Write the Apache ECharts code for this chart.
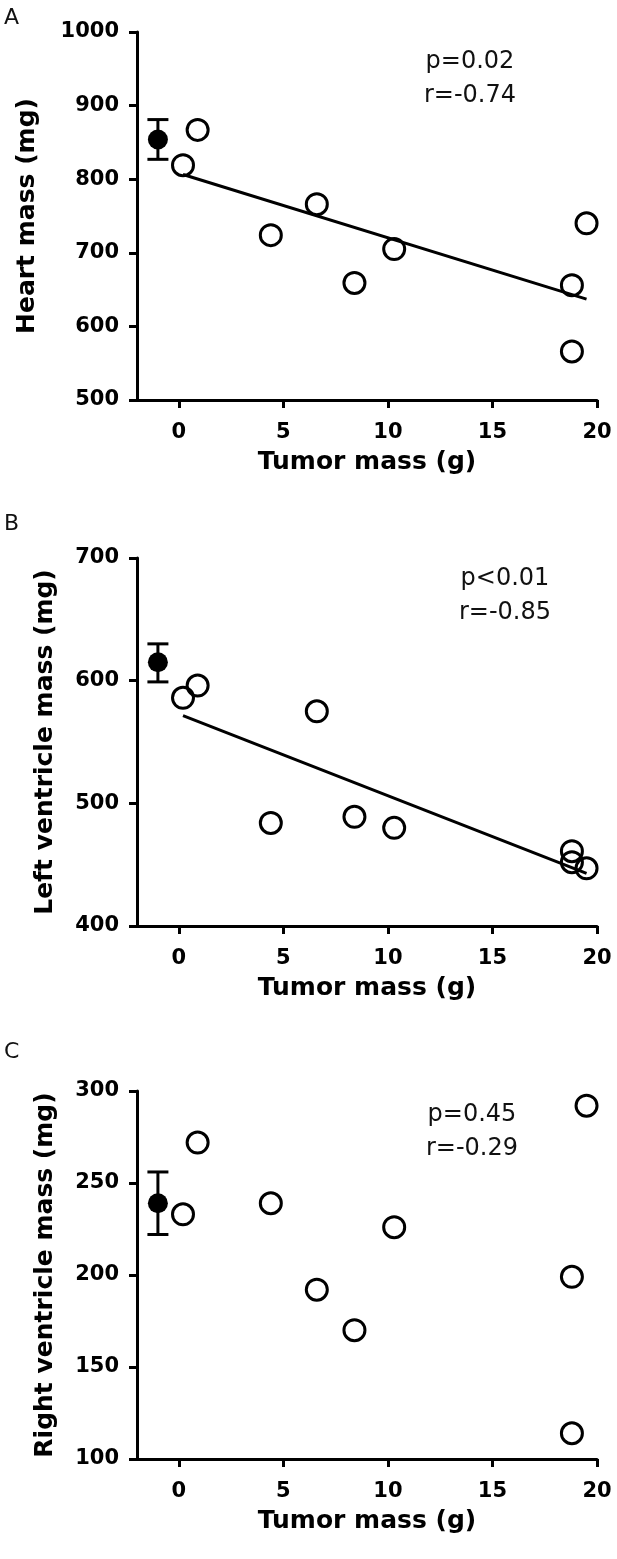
<!DOCTYPE html>
<html>
<head>
<meta charset="utf-8">
<script src="https://cdn.jsdelivr.net/npm/echarts@6/dist/echarts.min.js"></script>
<style>
  html, body { margin: 0; padding: 0; background: #fff; }
  #chart { width: 617px; height: 1559px; }
</style>
</head>
<body>
<div id="chart"></div>
<script>
// ---- Data ----
const tumorMass = [0.2, 0.9, 4.4, 6.6, 8.4, 10.3, 18.8, 18.8, 19.5];
const heartMass = [819, 867, 724, 766, 659, 705, 656, 566, 740];
const lvMass    = [586, 596, 484, 575, 489, 480, 461, 452, 447];
const rvMass    = [233, 272, 239, 192, 170, 226, 199, 114, 292];

// control group (mean, SEM bounds) plotted at x = -1
const controlX = -1;
const heartCtrl = [854, 827, 881];
const lvCtrl    = [615, 599, 630];
const rvCtrl    = [239, 222, 256];

const xTicks = [0, 5, 10, 15, 20];
const statsA = ['p=0.02', 'r=-0.74'];
const statsB = ['p<0.01', 'r=-0.85'];
const statsC = ['p=0.45', 'r=-0.29'];

const yNames = ['Heart mass (mg)', 'Left ventricle mass (mg)', 'Right ventricle mass (mg)'];
const xName = 'Tumor mass (g)';

// ---- helpers ----
function fitLine(xs, ys) {
  const n = xs.length;
  const mx = xs.reduce((a, b) => a + b, 0) / n;
  const my = ys.reduce((a, b) => a + b, 0) / n;
  let sxy = 0, sxx = 0;
  for (let i = 0; i < n; i++) { sxy += (xs[i] - mx) * (ys[i] - my); sxx += (xs[i] - mx) ** 2; }
  const b = sxy / sxx, a = my - b * mx;
  const x0 = Math.min(...xs), x1 = Math.max(...xs);
  return [[x0, a + b * x0], [x1, a + b * x1]];
}

const FONT = 'DejaVu Sans';
const grids = [
  { left: 137, right: 20, top: 32, height: 368 },
  { left: 137, right: 20, top: 558, height: 368 },
  { left: 137, right: 20, top: 1091, height: 368 }
];
const yRanges = [[500, 1000, 100], [400, 700, 100], [100, 300, 50]];
const yNameGaps = [97, 79, 79];

const axisLine = { show: true, onZero: false, lineStyle: { color: '#000', width: 3 } };
const axisTick = { show: true, length: 8, lineStyle: { color: '#000', width: 3 } };
const tickLabel = { color: '#000', fontFamily: FONT, fontWeight: 'bold', fontSize: 21,
  formatter: function (v) { return String(v); } };

const xAxes = grids.map((g, i) => ({
  type: 'value', gridIndex: i, min: -2, max: 20,
  axisLine: axisLine,
  axisTick: Object.assign({}, axisTick, { customValues: xTicks }),
  axisLabel: Object.assign({}, tickLabel, { customValues: xTicks, margin: 22 }),
  splitLine: { show: false },
  name: xName, nameLocation: 'middle', nameGap: 50,
  nameTextStyle: { color: '#000', fontFamily: FONT, fontWeight: 'bold', fontSize: 25 }
}));

const yAxes = grids.map((g, i) => ({
  type: 'value', gridIndex: i, min: yRanges[i][0], max: yRanges[i][1], interval: yRanges[i][2],
  axisLine: axisLine, axisTick: axisTick,
  axisLabel: Object.assign({}, tickLabel, { margin: 18 }),
  splitLine: { show: false },
  name: yNames[i], nameLocation: 'middle', nameGap: yNameGaps[i],
  nameTextStyle: { color: '#000', fontFamily: FONT, fontWeight: 'bold', fontSize: 25 }
}));

const panelValues = [heartMass, lvMass, rvMass];
const ctrlValues = [heartCtrl, lvCtrl, rvCtrl];
const showFit = [true, true, false];

const series = [];
panelValues.forEach((vals, i) => {
  if (showFit[i]) {
    series.push({
      type: 'line', xAxisIndex: i, yAxisIndex: i, data: fitLine(tumorMass, vals),
      showSymbol: false, symbol: 'none', lineStyle: { color: '#000', width: 3 }, z: 2, silent: true
    });
  }
  series.push({
    type: 'scatter', xAxisIndex: i, yAxisIndex: i,
    data: tumorMass.map((x, k) => [x, vals[k]]),
    symbol: 'circle', symbolSize: 21,
    itemStyle: { color: 'rgba(0,0,0,0)', borderColor: '#000', borderWidth: 3, opacity: 1 },
    z: 3, silent: true
  });
  const c = ctrlValues[i];
  series.push({
    type: 'custom', xAxisIndex: i, yAxisIndex: i,
    data: [[controlX, c[0], c[1], c[2]]],
    renderItem: function (params, api) {
      const x = api.value(0);
      const lo = api.coord([x, api.value(2)]);
      const hi = api.coord([x, api.value(3)]);
      const hw = 10.5;
      const st = { stroke: '#000', lineWidth: 3 };
      return {
        type: 'group', children: [
          { type: 'line', shape: { x1: lo[0], y1: lo[1], x2: hi[0], y2: hi[1] }, style: st },
          { type: 'line', shape: { x1: lo[0] - hw, y1: lo[1], x2: lo[0] + hw, y2: lo[1] }, style: st },
          { type: 'line', shape: { x1: hi[0] - hw, y1: hi[1], x2: hi[0] + hw, y2: hi[1] }, style: st }
        ]
      };
    },
    z: 3, silent: true
  });
  series.push({
    type: 'scatter', xAxisIndex: i, yAxisIndex: i,
    data: [[controlX, c[0]]], symbol: 'circle', symbolSize: 20,
    itemStyle: { color: '#000', opacity: 1 }, z: 4, silent: true
  });
});

function txt(text, x, y, size, align) {
  return {
    type: 'text', x: x, y: y, silent: true,
    style: { text: text, font: 'normal ' + size + 'px "' + FONT + '"', fill: '#111',
      textAlign: align || 'center', textVerticalAlign: 'middle' }
  };
}

const graphics = [
  txt('A', 4, 18, 22, 'left'),
  txt('B', 4, 524, 22, 'left'),
  txt('C', 4, 1052, 22, 'left'),
  txt(statsA[0], 470, 62, 24), txt(statsA[1], 470, 96, 24),
  txt(statsB[0], 505, 579, 24), txt(statsB[1], 505, 613, 24),
  txt(statsC[0], 472, 1115, 24), txt(statsC[1], 472, 1149, 24)
];

const chart = echarts.init(document.getElementById('chart'), null, { renderer: 'canvas' });
chart.setOption({
  animation: false,
  backgroundColor: '#fff',
  grid: grids,
  xAxis: xAxes,
  yAxis: yAxes,
  series: series,
  graphic: graphics
});
</script>
</body>
</html>
